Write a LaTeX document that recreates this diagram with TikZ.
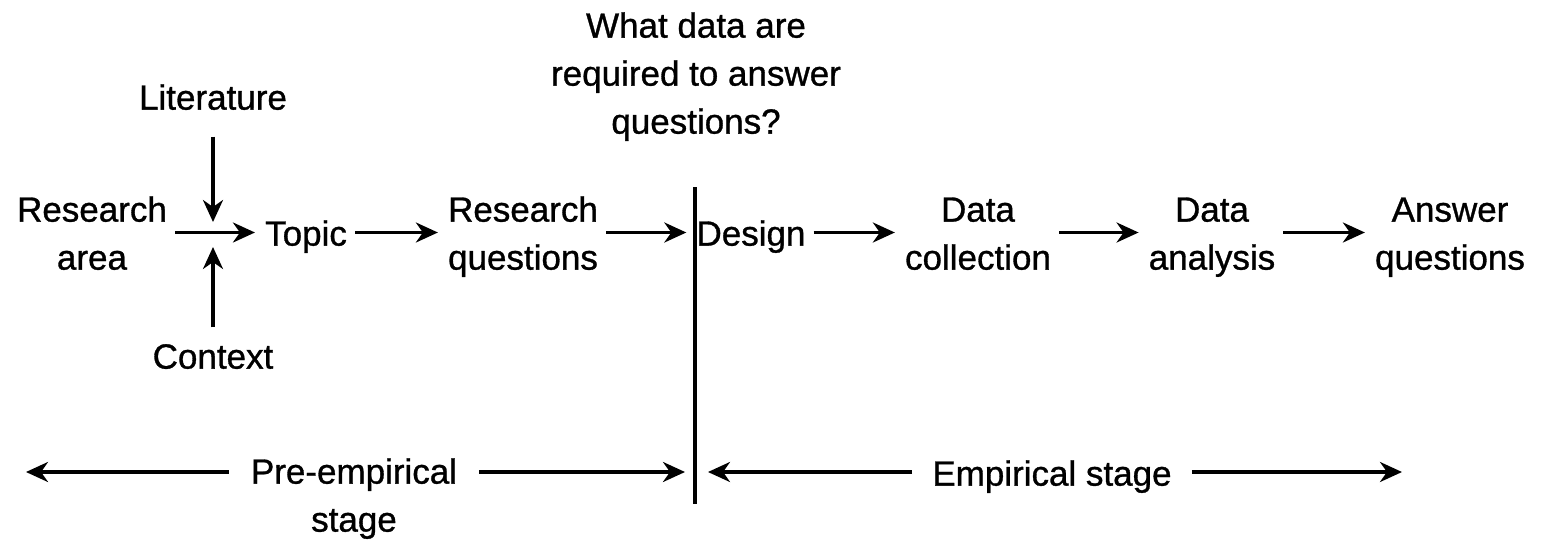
\documentclass[tikz,border=0pt]{standalone}
\usepackage{fontspec}
\setmainfont{Liberation Sans}[FakeBold=0]
\newfontfamily\heavy{Liberation Sans}[FakeBold=0.9]
\usetikzlibrary{arrows.meta}
\newcommand{\ls}{\rule[-0.25em]{0pt}{1.05em}}
\begin{document}
\begin{tikzpicture}[x=1pt,y=-1pt,
  lbl/.style={font=\heavy\fontsize{35}{48}\selectfont, align=center, inner sep=0pt},
  arr/.style={line width=3.3pt, -{Stealth[length=22pt,width=20pt,inset=7pt]}},
  flow/.style={arr, shorten <=8pt, shorten >=10pt},
  divider/.style={line width=3.3pt}]
\useasboundingbox[fill=white] (0,0) rectangle (1544,541);
% labels
\node[lbl] (lit) at (213,100) {\ls Literature};
\node[lbl] (ctx) at (213,359) {\ls Context};
\node[lbl] (ra)  at (92,236)  {\ls Research\\\ls area};
\node[lbl] (top) at (306,236) {\ls Topic};
\node[lbl] (rq)  at (523,236) {\ls Research\\\ls questions};
\node[lbl] (des) at (751,236) {\ls Design};
\node[lbl] (dc)  at (978,236) {\ls Data\\\ls collection};
\node[lbl] (da)  at (1212,236) {\ls Data\\\ls analysis};
\node[lbl] (aq)  at (1450,236) {\ls Answer\\\ls questions};
\node[lbl] (wd)  at (696,76) {\ls What data are\\\ls required to answer\\\ls questions?};
\node[lbl] (pe)  at (354,498) {\ls Pre-empirical\\\ls stage};
\node[lbl] (es)  at (1052,476) {\ls Empirical stage};
% coordinates
\coordinate (meet) at (213,233);
\coordinate (divtop) at (695,187);
\coordinate (divbot) at (695,504);
\coordinate (ltip) at (26,472);
\coordinate (divL) at (685,472);
\coordinate (divR) at (708,472);
\coordinate (rtip) at (1402,472);
% divider
\draw[divider] (divtop) -- (divbot);
% vertical inputs
\draw[arr, shorten <=18pt, shorten >=11pt] (lit) -- (meet);
\draw[arr, shorten <=13pt, shorten >=14pt] (ctx) -- (meet);
% main flow
\draw[flow] ([yshift=3.5pt]ra.east) -- ([yshift=3.5pt]top.west);
\draw[flow] ([yshift=3.5pt]top.east) -- ([yshift=3.5pt]rq.west);
\draw[flow] ([yshift=3.5pt]rq.east) -- ([yshift=3.5pt]des.west);
\draw[flow] ([yshift=3.5pt]des.east) -- ([yshift=3.5pt]dc.west);
\draw[flow] ([yshift=3.5pt]dc.east) -- ([yshift=3.5pt]da.west);
\draw[flow] ([yshift=3.5pt]da.east) -- ([yshift=3.5pt]aq.west);
% stage arrows
\draw[arr, shorten <=22pt] (pe.west |- ltip) -- (ltip);
\draw[arr, shorten <=22pt] (pe.east |- divL) -- (divL);
\draw[arr, shorten <=20pt] (es.west |- divR) -- (divR);
\draw[arr, shorten <=20pt] (es.east |- rtip) -- (rtip);
\end{tikzpicture}
\end{document}
